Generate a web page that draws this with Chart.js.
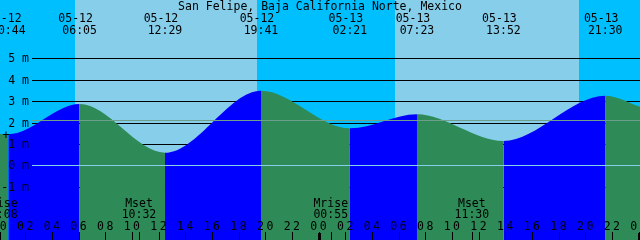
<!DOCTYPE html>
<html>
<head>
<meta charset="utf-8">
<script src="https://cdn.jsdelivr.net/npm/chart.js@4.4.1/dist/chart.umd.min.js"></script>
<style>
  html, body { margin: 0; padding: 0; background: #00bfff; }
  #wrap { width: 640px; height: 240px; }
</style>
</head>
<body>
<div id="wrap"><canvas id="tide" width="640" height="240"></canvas></div>
<script>
// Getijdengrafiek San Felipe (XTide stijl)
const title = 'San Felipe, Baja California Norte, Mexico';

// hoog- en laagwater
const tideDates = ['05-12', '05-12', '05-12', '05-12', '05-13', '05-13', '05-13', '05-13'];
const tideTimes = ['00:44', '06:05', '12:29', '19:41', '02:21', '07:23', '13:52', '21:30'];
const tideHeights = [1.45, 2.86, 0.59, 3.49, 1.73, 2.39, 1.14, 3.25];

// venster (uren vanaf 05-12 00:00) en hoogte aan de randen
const windowHours = [0.11, 48.11];
const edgeHeights = [1.46, 2.74];

// zon
const sunriseTimes = [['05-12', '05:45'], ['05-13', '05:45']];
const sunsetTimes = [['05-12', '19:24'], ['05-13', '19:30']];

// maan
const moonNames = ['Mrise', 'Mset', 'Mrise', 'Mset'];
const moonDates = ['05-12', '05-12', '05-13', '05-13'];
const moonTimes = ['00:08', '10:32', '00:55', '11:30'];

// assen
const levelValues = [-1, 0, 1, 2, 3, 4, 5];
const levelLabels = ['-1 m', '0 m', '1 m', '2 m', '3 m', '4 m', '5 m'];
const meanLevel = 2.1;
const hourTicks = [0, 2, 4, 6, 8, 10, 12, 14, 16, 18, 20, 22, 24, 26, 28, 30, 32, 34, 36, 38, 40, 42, 44, 46, 48];
const hourLabels = ['00', '02', '04', '06', '08', '10', '12', '14', '16', '18', '20', '22',
                    '00', '02', '04', '06', '08', '10', '12', '14', '16', '18', '20', '22', '00'];
const midnights = [0, 24, 48];

const NIGHT = '#00bfff', DAY = '#87ceeb', RISING = '#0000ff', FALLING = '#2e8b57';
const FONT = '11.5px "DejaVu Sans Mono", monospace';

function toHours(date, time) {
  const day = parseInt(date.split('-')[1], 10) - 12;
  const [hh, mm] = time.split(':').map(Number);
  return day * 24 + hh + mm / 60;
}

const tideHours = tideTimes.map((t, i) => toHours(tideDates[i], t));
const points = [{x: windowHours[0], y: edgeHeights[0]}]
  .concat(tideHours.map((h, i) => ({x: h, y: tideHeights[i]})))
  .concat([{x: windowHours[1], y: edgeHeights[1]}]);

const backdrop = {
  id: 'backdrop',
  beforeDatasetsDraw(chart) {
    const {ctx, chartArea: a, scales: {x, y}} = chart;
    ctx.save();
    ctx.fillStyle = NIGHT;
    ctx.fillRect(a.left, a.top, a.right - a.left, a.bottom - a.top);
    ctx.fillStyle = DAY;
    sunriseTimes.forEach((r, i) => {
      const x0 = x.getPixelForValue(toHours(r[0], r[1]));
      const x1 = x.getPixelForValue(toHours(sunsetTimes[i][0], sunsetTimes[i][1]));
      ctx.fillRect(Math.round(x0), a.top, Math.round(x1) - Math.round(x0), a.bottom - a.top);
    });
    // rasterlijnen achter het water
    ctx.strokeStyle = '#000';
    ctx.lineWidth = 1;
    levelValues.forEach(v => {
      const py = Math.round(y.getPixelForValue(v)) + 0.5;
      ctx.beginPath();
      ctx.moveTo(32, py);
      ctx.lineTo(a.right, py);
      ctx.stroke();
    });
    ctx.restore();
  },
  afterDatasetsDraw(chart) {
    const {ctx, chartArea: a, scales: {x, y}} = chart;
    ctx.save();
    // nul- en gemiddeld niveau
    let py = Math.round(y.getPixelForValue(0)) + 0.5;
    ctx.strokeStyle = '#87ceeb';
    ctx.beginPath(); ctx.moveTo(32, py); ctx.lineTo(a.right, py); ctx.stroke();
    py = Math.round(y.getPixelForValue(meanLevel)) + 0.5;
    ctx.strokeStyle = '#6e9e8c';
    ctx.beginPath(); ctx.moveTo(32, py); ctx.lineTo(a.right, py); ctx.stroke();

    ctx.fillStyle = '#000';
    ctx.font = FONT;
    ctx.textBaseline = 'alphabetic';

    // titel
    ctx.textAlign = 'center';
    ctx.fillText(title, (a.left + a.right) / 2, 10);

    // tijden hoog/laag
    tideHours.forEach((h, i) => {
      const px = x.getPixelForValue(h);
      ctx.fillText(tideDates[i], px - 4, 21.5);
      ctx.fillText(tideTimes[i], px, 33.5);
    });

    // niveaulabels
    ctx.textAlign = 'right';
    levelValues.forEach((v, i) => {
      ctx.fillText(levelLabels[i], 29, y.getPixelForValue(v) + 4);
    });
    ctx.textAlign = 'center';
    ctx.fillText('+', 6, 139);

    // maan
    moonTimes.forEach((t, i) => {
      const px = x.getPixelForValue(toHours(moonDates[i], t));
      ctx.fillText(moonNames[i], px, 206.5);
      ctx.fillText(t, px, 217.5);
      ctx.fillRect(Math.round(px), 232, 1, 8);
    });

    // uren
    ctx.letterSpacing = '2.5px';
    hourTicks.forEach((h, i) => {
      const px = x.getPixelForValue(h);
      ctx.fillText(hourLabels[i], px + 1.25, 229.5);
      ctx.fillRect(Math.round(px), 232, 1, 8);
    });
    ctx.letterSpacing = '0px';
    midnights.forEach(h => {
      const px = x.getPixelForValue(h);
      ctx.fillRect(Math.round(px) - 1, 233, 3, 7);
    });
    ctx.restore();
  }
};

new Chart(document.getElementById('tide'), {
  type: 'line',
  data: {
    datasets: [{
      data: points,
      fill: 'start',
      backgroundColor: FALLING,
      borderColor: 'rgba(0,0,0,0)',
      borderWidth: 0,
      pointRadius: 0,
      cubicInterpolationMode: 'monotone',
      segment: {
        backgroundColor: c => c.p1.parsed.y > c.p0.parsed.y ? RISING : FALLING
      }
    }]
  },
  options: {
    responsive: false,
    animation: false,
    events: [],
    layout: { padding: 0 },
    plugins: { legend: { display: false }, tooltip: { enabled: false } },
    scales: {
      x: { type: 'linear', min: windowHours[0], max: windowHours[1], display: false },
      y: { min: -3.49, max: 7.725, display: false }
    }
  },
  plugins: [backdrop]
});
</script>
</body>
</html>
